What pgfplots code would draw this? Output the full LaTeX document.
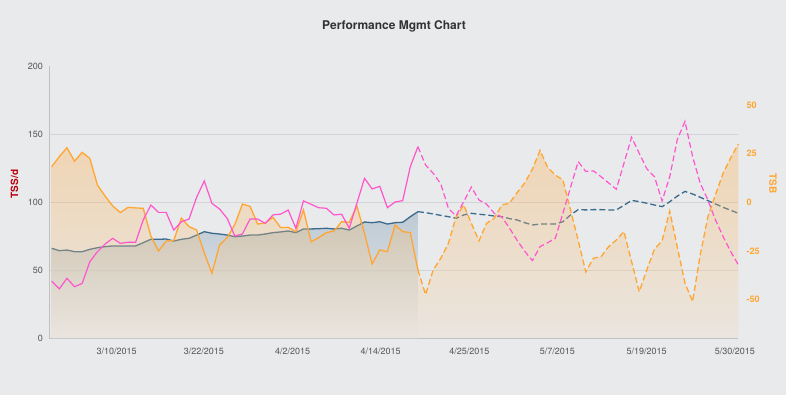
\documentclass[border=0pt]{standalone}
\usepackage{pgfplots}
\pgfplotsset{compat=1.18}
\usepackage{pgfplotstable}
\usepackage{fontspec}
\setmainfont{TeX Gyre Heros}
\definecolor{bgC}{RGB}{233,234,236}
\definecolor{gridC}{RGB}{211,212,215}
\definecolor{axisC}{RGB}{190,192,196}
\definecolor{pinkC}{RGB}{255,85,205}
\definecolor{orangeC}{RGB}{255,166,50}
\definecolor{blueC}{RGB}{58,106,140}
\definecolor{tssC}{RGB}{185,0,10}
\definecolor{labelC}{RGB}{85,85,85}
\definecolor{titleC}{RGB}{51,51,51}

\pgfplotstableread{
i ctl atl tsb
0 66.2 42.1 18.3
1 64.4 36.3 23.5
2 64.9 44.1 28.1
3 63.7 37.9 21.2
4 63.7 40.4 25.7
5 65.4 56.3 22.6
6 66.6 63.7 8.9
7 67.4 69.3 3.2
8 67.9 73.5 -1.9
9 67.9 69.8 -5.3
10 67.9 70.6 -2.6
11 67.9 70.6 -2.9
12 70.3 87.0 -3.1
13 72.8 98.0 -17.3
14 72.8 92.6 -25.1
15 73.0 92.6 -20.0
16 71.5 79.6 -19.6
17 72.8 85.7 -8.2
18 73.5 87.7 -12.5
19 75.9 103.7 -14.3
20 78.4 115.7 -26.0
21 77.2 99.2 -36.5
22 76.7 95.1 -22.0
23 75.9 88.2 -18.2
24 74.7 75.2 -11.5
25 75.2 76.7 -0.9
26 75.9 87.7 -2.1
27 75.9 87.7 -11.2
28 76.7 84.5 -10.6
29 77.7 90.7 -7.7
30 78.2 91.3 -13.0
31 78.9 94.3 -12.9
32 77.7 80.9 -15.1
33 80.4 101.0 -4.0
34 80.4 98.5 -20.3
35 80.6 96.0 -18.2
36 80.9 95.6 -15.6
37 80.4 90.7 -14.8
38 80.9 91.2 -10.0
39 79.6 80.9 -10.3
40 82.6 99.3 -1.9
41 85.5 117.6 -16.0
42 85.0 109.8 -31.7
43 85.7 111.8 -24.5
44 84.0 96.0 -25.4
45 85.0 100.2 -11.7
46 85.3 101.2 -15.1
47 89.4 126.2 -15.6
48 93.1 140.9 -34.8
49 92.4 127.4 -47.5
50 91.4 121.3 -34.8
51 90.4 113.5 -28.8
52 89.4 95.5 -21.1
53 88.2 90.0 -7.4
54 90.7 100.5 -1.4
55 91.9 111.2 -10.8
56 91.2 101.7 -19.8
57 90.7 98.6 -10.8
58 89.9 91.9 -8.2
59 89.4 89.2 -1.4
60 88.0 81.0 -0.5
61 87.0 72.0 5.0
62 85.0 64.0 10.0
63 83.3 57.1 17.0
64 84.0 67.4 26.7
65 84.0 70.3 18.0
66 84.0 73.5 14.0
67 85.7 91.9 11.5
68 90.7 111.0 -4.0
69 94.6 129.9 -19.5
70 94.4 122.7 -35.8
71 94.6 123.1 -28.8
72 94.6 118.8 -28.0
73 94.4 114.2 -22.8
74 94.4 109.6 -19.4
75 97.8 128.7 -15.1
76 101.4 147.8 -30.5
77 100.5 136.0 -46.0
78 99.3 124.6 -34.8
79 98.0 118.8 -24.1
80 96.8 101.0 -19.8
81 100.4 118.8 -4.5
82 104.6 146.3 -23.2
83 108.0 159.5 -41.7
84 106.1 133.5 -51.1
85 103.7 114.0 -27.0
86 101.2 101.7 -7.4
87 98.8 87.0 4.0
88 96.3 74.7 15.0
89 94.1 63.7 23.0
90 91.9 53.9 30.0
}\pmc

\pgfplotsset{
  pmcaxis/.style={
    scale only axis, width=689.4pt, height=272pt,
    at={(49pt,56.7pt)}, anchor=south west,
    xmin=-0.35, xmax=90,
    major tick length=0pt,
    tick label style={font=\fontsize{9}{11}\selectfont},
    /pgf/number format/assume math mode=true,
    clip=false,
  }
}

\begin{document}
\begin{tikzpicture}[x=1pt,y=1pt]
\fill[bgC] (0,0) rectangle (786,395);

% Left axis with grid, CTL
\begin{axis}[pmcaxis,
  ymin=0, ymax=200,
  axis x line*=bottom, axis y line*=left,
  axis line style={draw=axisC, line width=0.8pt, -},
  ytick={50,100,150}, extra y ticks={0,200},
  extra y tick style={grid=none},
  ymajorgrids, grid style={draw=gridC, line width=0.7pt},
  yticklabel style={anchor=east, inner sep=0pt, xshift=-6pt, text=labelC},
  xtick={8.52,19.96,31.59,43.12,54.73,66.26,77.98,89.55},
  xticklabels={3/10/2015,3/22/2015,4/2/2015,4/14/2015,4/25/2015,5/7/2015,5/19/2015,5/30/2015},
  xticklabel style={anchor=north, inner sep=0pt, yshift=-9.5pt, text=labelC},
]
\addplot[draw=none, fill opacity=0.55, top color=blueC!45!bgC, bottom color=bgC,
  restrict x to domain=0:48] table[x=i,y=ctl]{\pmc} \closedcycle;
\addplot[blueC, line width=1.3pt, restrict x to domain=0:48] table[x=i,y=ctl]{\pmc};
\addplot[blueC, line width=1.3pt, dash pattern=on 6pt off 3pt, restrict x to domain=48:90] table[x=i,y=ctl]{\pmc};
\end{axis}

% Right axis, TSB
\begin{axis}[pmcaxis,
  ymin=-70, ymax=70,
  axis x line=none, axis y line*=right,
  y axis line style={draw=none},
  ytick={-50,-25,0,25,50},
  yticklabel style={anchor=west, inner sep=0pt, xshift=8pt, text=orangeC, font=\fontsize{9}{11}\selectfont\bfseries},
]
\addplot[draw=none, fill opacity=0.3, top color=orangeC, bottom color=orangeC!22!bgC]
  table[x=i,y=tsb]{\pmc} -- (90,-70) -- (0,-70) -- cycle;
\addplot[orangeC, line width=1.3pt, restrict x to domain=0:48] table[x=i,y=tsb]{\pmc};
\addplot[orangeC, line width=1.3pt, dash pattern=on 6pt off 3pt, restrict x to domain=48:90] table[x=i,y=tsb]{\pmc};
\end{axis}

% ATL on top
\begin{axis}[pmcaxis, ymin=0, ymax=200, hide axis]
\addplot[pinkC, line width=1.2pt, restrict x to domain=0:48] table[x=i,y=atl]{\pmc};
\addplot[pinkC, line width=1.2pt, dash pattern=on 6pt off 3pt, restrict x to domain=48:90] table[x=i,y=atl]{\pmc};
\end{axis}

\node[anchor=base, text=titleC, font=\fontsize{12}{14}\selectfont\bfseries] at (394,365.7) {Performance Mgmt Chart};
\node[rotate=90, text=tssC, font=\fontsize{10}{12}\selectfont\bfseries] at (14.5,211) {TSS/d};
\node[rotate=-90, text=orangeC, font=\fontsize{10}{12}\selectfont\bfseries] at (773,211.5) {TSB};
\end{tikzpicture}
\end{document}
